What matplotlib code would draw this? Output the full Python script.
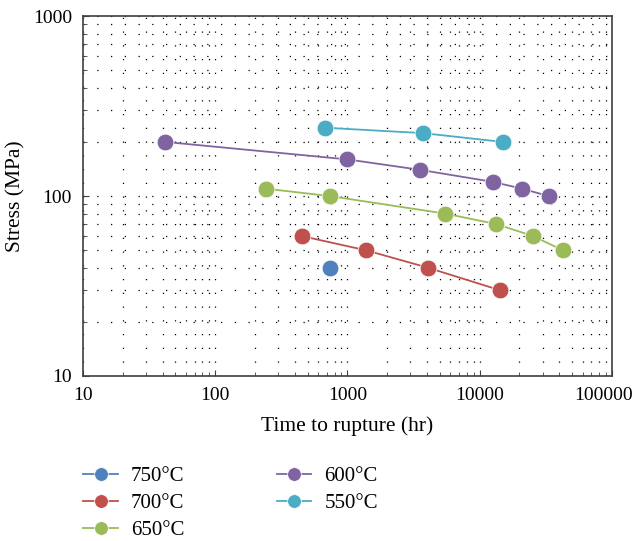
import matplotlib.pyplot as plt
import matplotlib.transforms as mtransforms
from matplotlib.ticker import LogLocator, NullFormatter, FixedLocator, FixedFormatter
import numpy as np

plt.rcParams['font.family'] = ['Liberation Serif', 'DejaVu Serif']

# creep rupture data
t_750 = [740]
s_750 = [40]
t_700 = [450, 1380, 4060, 14200]
s_700 = [60, 50, 40, 30]
t_650 = [242, 738, 5460, 13300, 25300, 42600]
s_650 = [110, 100, 80, 70, 60, 50]
t_600 = [42, 1000, 3540, 12600, 20900, 33400]
s_600 = [200, 160, 140, 120, 110, 100]
t_550 = [676, 3720, 15000]
s_550 = [240, 224, 200]

series = [
    ("750°C", t_750, s_750, "#4F81BD"),
    ("700°C", t_700, s_700, "#C0504D"),
    ("650°C", t_650, s_650, "#9BBB59"),
    ("600°C", t_600, s_600, "#8064A2"),
    ("550°C", t_550, s_550, "#4BACC6"),
]

fig = plt.figure(figsize=(6.36, 5.41), dpi=100)
ax = fig.add_axes([0.1305, 0.305, 0.8315, 0.665])

for label, t, s, c in series:
    ax.plot(t, s, color=c, marker="o", markersize=12, linewidth=1.3,
            markeredgecolor="white", markeredgewidth=0.5, label=label)

ax.set_xscale("log")
ax.set_yscale("log")
ax.set_xlim(10, 100000)
ax.set_ylim(10, 1000)

xt = [10, 100, 1000, 10000, 100000]
yt = [10, 100, 1000]
ax.xaxis.set_major_locator(FixedLocator(xt))
ax.xaxis.set_major_formatter(FixedFormatter([str(v) for v in xt]))
ax.yaxis.set_major_locator(FixedLocator(yt))
ax.yaxis.set_major_formatter(FixedFormatter([str(v) for v in yt]))
ax.xaxis.set_minor_locator(LogLocator(base=10, subs=np.arange(2, 10)))
ax.yaxis.set_minor_locator(LogLocator(base=10, subs=np.arange(2, 10)))
ax.xaxis.set_minor_formatter(NullFormatter())
ax.yaxis.set_minor_formatter(NullFormatter())

ax.grid(True, which="both", color="black", linestyle=(0, (1, 10)), linewidth=0.9)
ax.set_axisbelow(True)

ax.tick_params(axis="both", which="major", labelsize=14, direction="in", length=4, color="#404040", pad=8)
ax.tick_params(axis="both", which="minor", direction="in", length=3, color="#404040")

for sp in ax.spines.values():
    sp.set_color("#404040")
    sp.set_linewidth(1.2)

ax.set_xlabel("Time to rupture (hr)", fontsize=15.5, labelpad=9)
ax.set_ylabel("Stress (MPa)", fontsize=15.5, labelpad=5)

# pull the last x label inside the figure like the original
fig.canvas.draw()
lbl = ax.get_xticklabels()[-1]
lbl.set_transform(lbl.get_transform() + mtransforms.ScaledTranslation(-8 / 100, 0, fig.dpi_scale_trans))

handles, labels = ax.get_legend_handles_labels()
fig.legend(handles, labels,
           loc="upper left", bbox_to_anchor=(0.118, 0.153), ncol=2,
           frameon=False, fontsize=15, handlelength=1.65, markerscale=0.82,
           columnspacing=4.45, labelspacing=0.36, handletextpad=0.63,
           borderaxespad=0)

fig.savefig("out.png", dpi=100)
